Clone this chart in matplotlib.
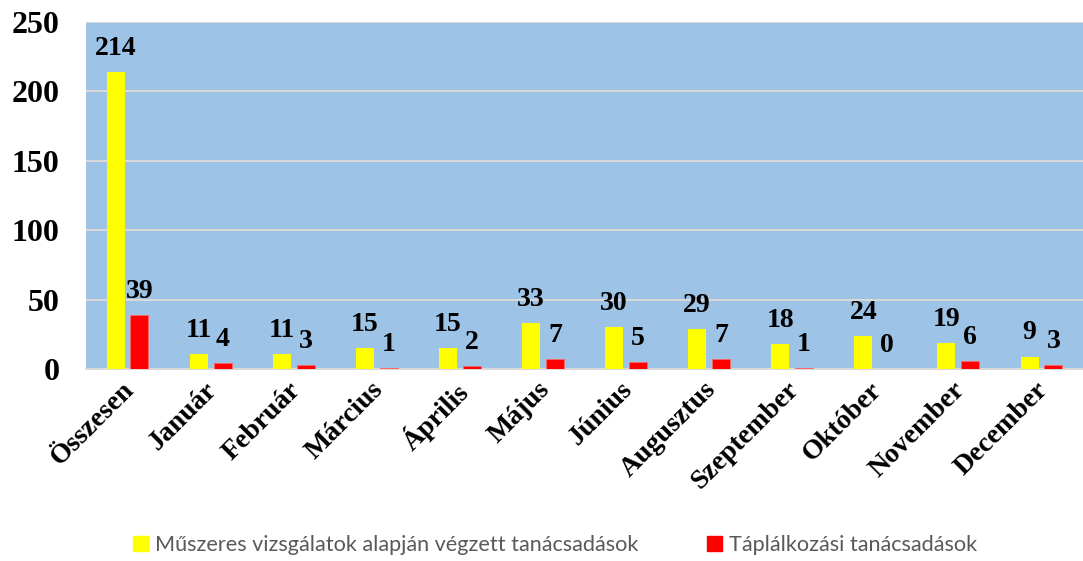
import matplotlib
matplotlib.use("Agg")
import matplotlib.pyplot as plt
import matplotlib.transforms as mtransforms
import numpy as np
from matplotlib.patches import Patch

categories = ["Összesen", "Január", "Február", "Március", "Április", "Május",
              "Június", "Augusztus", "Szeptember", "Október", "November", "December"]
muszeres = [214, 11, 11, 15, 15, 33, 30, 29, 18, 24, 19, 9]
taplalkozasi = [39, 4, 3, 1, 2, 7, 5, 7, 1, 0, 6, 3]
series_names = ["Műszeres vizsgálatok alapján végzett tanácsadások",
                "Táplálkozási tanácsadások"]
yticks = [0, 50, 100, 150, 200, 250]

W, H = 1083, 561
fig = plt.figure(figsize=(W / 100, H / 100), dpi=100)
ax = fig.add_axes([86 / W, 1 - 369 / H, (W - 86) / W, (369 - 22) / H])

x = np.arange(len(categories))
bw = 0.217
gap = 0.07
serif = "Liberation Serif"
ax.bar(x - (bw + gap) / 2, muszeres, bw, color="#FFFF00", zorder=3)
ax.bar(x + (bw + gap) / 2, taplalkozasi, bw, color="#FF0000", edgecolor="#FF6666",
       linewidth=0.6, zorder=3)

for xi, v in zip(x, muszeres):
    ax.annotate(str(v), (xi - (bw + gap) / 2, v), xytext=(0, 8), textcoords="offset points",
                ha="center", va="bottom", fontsize=20, fontweight="bold", family=serif)
for xi, v in zip(x, taplalkozasi):
    ax.annotate(str(v), (xi + (bw + gap) / 2, v), xytext=(0, 8), textcoords="offset points",
                ha="center", va="bottom", fontsize=20, fontweight="bold", family=serif)

ax.set_facecolor("#9DC3E6")
ax.set_xlim(-0.5, len(categories) - 0.5)
ax.set_ylim(0, 250)
ax.set_yticks(yticks)
ax.set_yticklabels([str(t) for t in yticks], fontsize=23, fontweight="bold", family=serif)
ax.yaxis.grid(True, color="#D9D9D9", linewidth=1.5, zorder=0)
ax.set_axisbelow(True)
ax.tick_params(axis="y", length=0, pad=19)
ax.tick_params(axis="x", length=0, pad=6)
ax.set_xticks(x)
ax.set_xticklabels(categories, rotation=45, ha="right", rotation_mode="anchor",
                   fontsize=20, fontweight="bold", family=serif)
shift = mtransforms.ScaledTranslation(-6 / 100, 0, fig.dpi_scale_trans)
for lbl in ax.get_xticklabels():
    lbl.set_transform(lbl.get_transform() + shift)
for s in ["top", "right", "left"]:
    ax.spines[s].set_visible(False)
ax.spines["bottom"].set_color("#D9D9D9")
ax.spines["bottom"].set_linewidth(1.5)

handles = [Patch(color="#FFFF00"), Patch(color="#FF0000")]
fig.legend(handles, series_names, loc="center", bbox_to_anchor=(555 / W, 1 - 545 / H),
           ncol=2, frameon=False, handlelength=0.7, handleheight=0.7, handletextpad=0.3,
           columnspacing=3.2, prop={"family": "Lato", "size": 15.6}, labelcolor="#595959")

fig.savefig("out.png", dpi=100)
